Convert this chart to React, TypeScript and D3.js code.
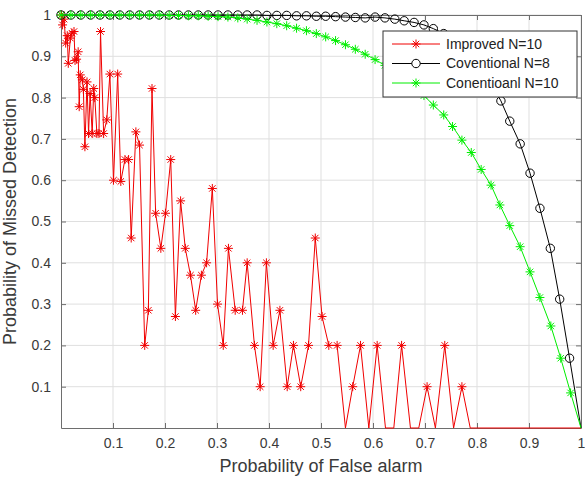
import React, { useEffect, useRef } from "react";
import * as d3 from "d3";

// Improved N=10 (red stars)
const improvedPf = [
  0.001, 0.003, 0.006, 0.009, 0.012, 0.014, 0.018, 0.021, 0.025, 0.027, 0.03, 0.033,
  0.035, 0.037, 0.041, 0.043, 0.046, 0.05, 0.053, 0.056, 0.06, 0.063, 0.065, 0.069,
  0.073, 0.076, 0.082, 0.088, 0.094, 0.101, 0.109, 0.115, 0.123, 0.13, 0.135, 0.144,
  0.151, 0.161, 0.168, 0.175, 0.182, 0.192, 0.201, 0.211, 0.22, 0.23, 0.239, 0.249,
  0.259, 0.27, 0.28, 0.291, 0.301, 0.312, 0.322, 0.335, 0.349, 0.358, 0.372, 0.383,
  0.395, 0.408, 0.421, 0.435, 0.447, 0.461, 0.476, 0.489, 0.502, 0.515, 0.531, 0.547,
  0.561, 0.576, 0.592, 0.608, 0.624, 0.64, 0.655, 0.672, 0.688, 0.704, 0.72, 0.738,
  0.755, 0.771, 0.787, 0.85, 0.9, 0.95, 1.0,
];
const improvedPm = [
  1.0, 0.976, 0.99, 0.932, 0.95, 0.883, 0.944, 0.956, 0.96, 0.89, 0.893, 0.911,
  0.778, 0.855, 0.843, 0.82, 0.681, 0.838, 0.713, 0.81, 0.713, 0.822, 0.8, 0.713,
  0.713, 0.96, 0.713, 0.746, 0.857, 0.6, 0.857, 0.597, 0.65, 0.65, 0.46, 0.717,
  0.685, 0.2, 0.285, 0.822, 0.52, 0.435, 0.52, 0.65, 0.27, 0.55, 0.435, 0.37,
  0.285, 0.37, 0.4, 0.58, 0.3, 0.2, 0.435, 0.285, 0.285, 0.4, 0.2, 0.1,
  0.4, 0.2, 0.285, 0.1, 0.2, 0.1, 0.2, 0.46, 0.27, 0.2, 0.2, 0,
  0.1, 0.2, 0, 0.2, 0, 0, 0.2, 0, 0, 0.1, 0, 0.2,
  0, 0.1, 0, 0, 0, 0, 0,
];

// Coventional N=8 (black circles)
const conv8Pf = [
  0, 0.019, 0.038, 0.057, 0.075, 0.094, 0.113, 0.132, 0.151, 0.17, 0.189, 0.208,
  0.226, 0.245, 0.264, 0.283, 0.302, 0.321, 0.34, 0.358, 0.377, 0.396, 0.415, 0.434,
  0.453, 0.472, 0.491, 0.509, 0.528, 0.547, 0.566, 0.585, 0.604, 0.623, 0.642, 0.66,
  0.679, 0.698, 0.716, 0.736, 0.753, 0.771, 0.789, 0.808, 0.827, 0.846, 0.863, 0.883,
  0.902, 0.921, 0.941, 0.959, 0.978, 1.0,
];
const conv8Pm = [
  1, 1, 1, 1, 1, 1, 1, 1, 1, 1, 1, 1,
  1, 1, 1, 1, 1, 1, 1, 1, 1, 0.999, 0.999, 0.999,
  0.998, 0.998, 0.997, 0.997, 0.996, 0.995, 0.994, 0.993, 0.995, 0.993, 0.99, 0.986,
  0.982, 0.976, 0.967, 0.955, 0.94, 0.922, 0.9, 0.87, 0.834, 0.792, 0.743, 0.688,
  0.617, 0.532, 0.435, 0.312, 0.169, 0,
];

// Conentioanl N=10 (green stars)
const conv10Pf = [
  0, 0.019, 0.038, 0.057, 0.075, 0.094, 0.113, 0.132, 0.151, 0.17, 0.189, 0.208,
  0.226, 0.245, 0.264, 0.283, 0.302, 0.321, 0.34, 0.358, 0.377, 0.396, 0.415, 0.434,
  0.453, 0.472, 0.491, 0.509, 0.528, 0.547, 0.566, 0.585, 0.604, 0.623, 0.642, 0.66,
  0.679, 0.698, 0.716, 0.736, 0.753, 0.771, 0.789, 0.808, 0.827, 0.844, 0.863, 0.883,
  0.902, 0.921, 0.942, 0.961, 0.98, 1.0,
];
const conv10Pm = [
  1, 1, 1, 1, 1, 1, 1, 1, 1, 1, 1, 0.999,
  0.999, 0.998, 0.998, 0.997, 0.996, 0.995, 0.993, 0.99, 0.987, 0.983, 0.979, 0.974,
  0.968, 0.962, 0.955, 0.947, 0.938, 0.928, 0.917, 0.905, 0.892, 0.878, 0.862, 0.845,
  0.826, 0.805, 0.782, 0.758, 0.73, 0.697, 0.667, 0.626, 0.588, 0.54, 0.49, 0.439,
  0.378, 0.316, 0.247, 0.169, 0.085, 0,
];

const ticks = [0.1, 0.2, 0.3, 0.4, 0.5, 0.6, 0.7, 0.8, 0.9, 1];
const legendLabels = ["Improved N=10", "Coventional N=8", "Conentioanl N=10"];

const W = 585;
const H = 479;
const margin = { top: 15, right: 4, bottom: 51, left: 61 };
const font = "'Liberation Sans', Arial, sans-serif";
const starPath = "M-4.5,0H4.5M0,-4.5V4.5M-3.2,-3.2L3.2,3.2M-3.2,3.2L3.2,-3.2";

const App: React.FC = () => {
  const svgRef = useRef<SVGSVGElement>(null);

  useEffect(() => {
    if (!svgRef.current) return;
    const root = d3.select(svgRef.current);
    root.selectAll("*").remove();

    const width = W - margin.left - margin.right;
    const height = H - margin.top - margin.bottom;

    const x = d3.scaleLinear().domain([0, 1]).range([0, width]);
    const y = d3.scaleLinear().domain([0, 1]).range([height, 0]);

    root.append("rect").attr("width", W).attr("height", H).attr("fill", "#fff");

    const g = root
      .append("g")
      .attr("transform", `translate(${margin.left},${margin.top})`);

    // grid
    g.selectAll(".gx")
      .data(ticks)
      .enter()
      .append("line")
      .attr("x1", (d) => x(d))
      .attr("x2", (d) => x(d))
      .attr("y1", 0)
      .attr("y2", height)
      .attr("stroke", "#dfdfdf");
    g.selectAll(".gy")
      .data(ticks)
      .enter()
      .append("line")
      .attr("y1", (d) => y(d))
      .attr("y2", (d) => y(d))
      .attr("x1", 0)
      .attr("x2", width)
      .attr("stroke", "#dfdfdf");

    // axes
    const axisColor = "#6e6e6e";
    const xAxis = g
      .append("g")
      .attr("transform", `translate(0,${height})`)
      .call(d3.axisBottom(x).tickValues(ticks).tickSizeInner(-5).tickSizeOuter(0).tickPadding(10).tickFormat(d3.format("~g")));
    const yAxis = g
      .append("g")
      .call(d3.axisLeft(y).tickValues(ticks).tickSizeInner(-5).tickSizeOuter(0).tickPadding(10).tickFormat(d3.format("~g")));
    [xAxis, yAxis].forEach((a) => {
      a.select(".domain").attr("stroke", axisColor);
      a.selectAll(".tick line").attr("stroke", axisColor);
      a.selectAll(".tick text")
        .attr("fill", "#3a3a3a")
        .style("font-family", font)
        .style("font-size", "14px");
    });
    g.append("g")
      .call(d3.axisTop(x).tickValues(ticks).tickSizeInner(-5).tickSizeOuter(0).tickFormat(() => ""))
      .call((a) => a.selectAll("line,path").attr("stroke", axisColor));
    g.append("g")
      .attr("transform", `translate(${width},0)`)
      .call(d3.axisRight(y).tickValues(ticks).tickSizeInner(-5).tickSizeOuter(0).tickFormat(() => ""))
      .call((a) => a.selectAll("line,path").attr("stroke", axisColor));

    // axis labels
    g.append("text")
      .attr("x", width / 2)
      .attr("y", height + 44)
      .attr("text-anchor", "middle")
      .attr("fill", "#3a3a3a")
      .style("font-family", font)
      .style("font-size", "18px")
      .text("Probability of False alarm");
    g.append("text")
      .attr("transform", `translate(${-45},${height / 2}) rotate(-90)`)
      .attr("text-anchor", "middle")
      .attr("fill", "#3a3a3a")
      .style("font-family", font)
      .style("font-size", "18px")
      .text("Probability of Missed Detection");

    const series = [
      { xs: improvedPf, ys: improvedPm, color: "#f00000", marker: "star" },
      { xs: conv8Pf, ys: conv8Pm, color: "#000000", marker: "circle" },
      { xs: conv10Pf, ys: conv10Pm, color: "#00ee00", marker: "star" },
    ];

    series.forEach((s) => {
      const pts = s.xs.map((v, i) => [v, s.ys[i]] as [number, number]);
      const path = d3
        .line<[number, number]>()
        .x((d) => x(d[0]))
        .y((d) => y(d[1]));
      g.append("path")
        .attr("d", path(pts) || "")
        .attr("fill", "none")
        .attr("stroke", s.color)
        .attr("stroke-width", 1);
      // points sitting on the lower limit are clipped, as in the original
      const visible = pts.filter((d) => d[1] > 0);
      if (s.marker === "star") {
        g.selectAll(null)
          .data(visible)
          .enter()
          .append("path")
          .attr("d", starPath)
          .attr("transform", (d) => `translate(${x(d[0])},${y(d[1])})`)
          .attr("fill", "none")
          .attr("stroke", s.color)
          .attr("stroke-width", 1);
      } else {
        g.selectAll(null)
          .data(visible)
          .enter()
          .append("circle")
          .attr("cx", (d) => x(d[0]))
          .attr("cy", (d) => y(d[1]))
          .attr("r", 4.2)
          .attr("fill", "none")
          .attr("stroke", s.color)
          .attr("stroke-width", 1);
      }
    });

    // legend
    const lg = root.append("g").attr("transform", "translate(383,31)");
    lg.append("rect")
      .attr("width", 194)
      .attr("height", 66)
      .attr("fill", "#fff")
      .attr("stroke", "#333")
      .attr("stroke-width", 1);
    legendLabels.forEach((label, i) => {
      const s = series[i];
      const cy = 13 + i * 19.5;
      lg.append("line")
        .attr("x1", 9)
        .attr("x2", 57)
        .attr("y1", cy)
        .attr("y2", cy)
        .attr("stroke", s.color);
      if (s.marker === "star") {
        lg.append("path")
          .attr("d", starPath)
          .attr("transform", `translate(33,${cy})`)
          .attr("fill", "none")
          .attr("stroke", s.color);
      } else {
        lg.append("circle")
          .attr("cx", 33)
          .attr("cy", cy)
          .attr("r", 4.2)
          .attr("fill", "#fff")
          .attr("stroke", s.color);
      }
      lg.append("text")
        .attr("x", 63)
        .attr("y", cy)
        .attr("dy", "0.35em")
        .attr("fill", "#222")
        .style("font-family", font)
        .style("font-size", "14px")
        .text(label);
    });
  }, []);

  return (
    <svg
      ref={svgRef}
      width={W}
      height={H}
      style={{ position: "absolute", left: 0, top: 0 }}
    />
  );
};

export default App;
